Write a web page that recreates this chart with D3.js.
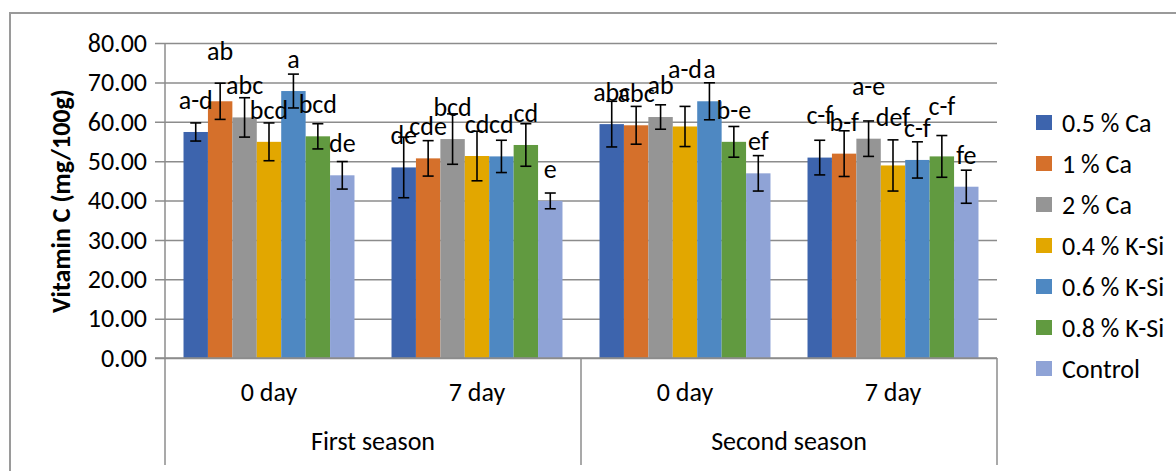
<!DOCTYPE html>
<head>
  <meta charset="utf-8" />
  <script src="https://d3js.org/d3.v7.min.js"></script>
  <style>
    body {
      margin: 0;
      background: #fff;
    }
    text {
      font-family: Carlito, Calibri, Lato, sans-serif;
      fill: #000;
    }
  </style>
</head>

<body>
  <script>
    // data
    var groups = ["First season|0 day", "First season|7 day", "Second season|0 day", "Second season|7 day"];
    var seasons = ["First season", "Second season"];
    var treatments = ["0.5 % Ca", "1 % Ca", "2 % Ca", "0.4 % K-Si", "0.6 % K-Si", "0.8 % K-Si", "Control"];

    var ca05 = [57.4, 48.4, 59.4, 50.9];
    var ca1 = [65.2, 50.7, 59.1, 51.9];
    var ca2 = [61.1, 55.6, 61.2, 55.7];
    var ksi04 = [54.9, 51.3, 58.8, 48.9];
    var ksi06 = [67.8, 51.2, 65.2, 50.3];
    var ksi08 = [56.3, 54.1, 54.9, 51.2];
    var control = [46.4, 39.9, 46.9, 43.5];

    var ca05Err = [2.3, 7.7, 5.8, 4.4];
    var ca1Err = [4.6, 4.5, 4.8, 5.8];
    var ca2Err = [5.0, 6.4, 3.1, 4.5];
    var ksi04Err = [4.8, 6.3, 5.1, 6.5];
    var ksi06Err = [4.3, 4.1, 4.7, 4.6];
    var ksi08Err = [3.2, 5.4, 3.9, 5.3];
    var controlErr = [3.5, 2.0, 4.5, 4.2];

    var ca05Let = ["a-d", "de", "abc", "c-f"];
    var ca1Let = ["ab", "cde", "abc", "b-f"];
    var ca2Let = ["abc", "bcd", "ab", "a-e"];
    var ksi04Let = ["bcd", "cd", "a-d", "def"];
    var ksi06Let = ["a", "cd", "a", "c-f"];
    var ksi08Let = ["bcd", "cd", "b-e", "c-f"];
    var controlLet = ["de", "e", "ef", "fe"];

    var yTicks = [0, 10, 20, 30, 40, 50, 60, 70, 80];

    var values = [ca05, ca1, ca2, ksi04, ksi06, ksi08, control];
    var errors = [ca05Err, ca1Err, ca2Err, ksi04Err, ksi06Err, ksi08Err, controlErr];
    var letters = [ca05Let, ca1Let, ca2Let, ksi04Let, ksi06Let, ksi08Let, controlLet];

    // layout
    var width = 1176, height = 471;
    var fs = 26;
    var colors = ["#3d64ad", "#d5702b", "#959595", "#e2a700", "#4e88c2", "#619a40", "#8fa3d6"];
    // labels that were dragged up in the original (series-group : px)
    var labelLift = { "1-0": 18, "3-2": 25, "0-3": 11, "2-3": 21, "3-3": 16, "5-3": 18 };

    var svg = d3.select("body").append("svg")
      .attr("width", width)
      .attr("height", height);

    svg.append("rect")
      .attr("x", 10).attr("y", 13)
      .attr("width", 1300).attr("height", 600)
      .attr("fill", "none")
      .attr("stroke", "#9a9a9a")
      .attr("stroke-width", 2);

    var plotL = 165, plotR = 997, plotT = 43, base = 358, plotB = 465;

    var x0 = d3.scaleBand().domain(groups).range([plotL, plotR])
      .paddingInner(0.178).paddingOuter(0.089);
    var x1 = d3.scaleBand().domain(treatments).range([0, x0.bandwidth()]);
    var y = d3.scaleLinear().domain([0, 80]).range([base, plotT]);

    // gridlines + ticks
    var yAxis = d3.axisLeft(y).tickValues(yTicks)
      .tickSize(-(plotR - plotL)).tickFormat(d3.format(".2f")).tickPadding(18);
    var ga = svg.append("g").attr("transform", "translate(" + plotL + ",0)").call(yAxis);
    ga.select(".domain").remove();
    ga.selectAll(".tick line").attr("stroke", "#8c8c8c").attr("stroke-width", 1.5)
      .attr("x1", -10);
    ga.selectAll(".tick text").attr("font-size", fs).attr("fill", "#000")
      .attr("font-family", "Carlito, Calibri, Lato, sans-serif");

    // bars
    var bars = [];
    values.forEach(function (s, i) {
      s.forEach(function (v, j) {
        bars.push({ s: i, g: j, v: v, e: errors[i][j], l: letters[i][j] });
      });
    });

    svg.append("g").selectAll("rect").data(bars).join("rect")
      .attr("x", d => x0(groups[d.g]) + x1(treatments[d.s]))
      .attr("width", x1.bandwidth())
      .attr("y", d => y(d.v))
      .attr("height", d => base - y(d.v))
      .attr("fill", d => colors[d.s]);

    // axis lines
    svg.append("line").attr("x1", plotL).attr("x2", plotL).attr("y1", plotT).attr("y2", plotB)
      .attr("stroke", "#8c8c8c").attr("stroke-width", 1.5);
    svg.append("line").attr("x1", plotL - 10).attr("x2", plotR).attr("y1", base).attr("y2", base)
      .attr("stroke", "#8c8c8c").attr("stroke-width", 1.5);
    var mid = (x0(groups[1]) + x0.bandwidth() + x0(groups[2])) / 2;
    [mid, plotR].forEach(function (xx) {
      svg.append("line").attr("x1", xx).attr("x2", xx).attr("y1", base).attr("y2", plotB)
        .attr("stroke", "#8c8c8c").attr("stroke-width", 1.5);
    });

    // error bars
    var ge = svg.append("g").attr("stroke", "#000").attr("stroke-width", 1.6);
    bars.forEach(function (d) {
      var cx = x0(groups[d.g]) + x1(treatments[d.s]) + x1.bandwidth() / 2;
      ge.append("line").attr("x1", cx).attr("x2", cx).attr("y1", y(d.v + d.e)).attr("y2", y(d.v - d.e));
      ge.append("line").attr("x1", cx - 5.5).attr("x2", cx + 5.5).attr("y1", y(d.v + d.e)).attr("y2", y(d.v + d.e));
      ge.append("line").attr("x1", cx - 5.5).attr("x2", cx + 5.5).attr("y1", y(d.v - d.e)).attr("y2", y(d.v - d.e));
    });

    // letters
    svg.append("g").selectAll("text").data(bars).join("text")
      .attr("x", d => x0(groups[d.g]) + x1(treatments[d.s]) + x1.bandwidth() / 2)
      .attr("y", d => y(d.v) - 23 - (labelLift[d.s + "-" + d.g] || 0))
      .attr("text-anchor", "middle")
      .attr("font-size", fs)
      .text(d => d.l);

    // category labels
    groups.forEach(function (g) {
      svg.append("text")
        .attr("x", x0(g) + x0.bandwidth() / 2)
        .attr("y", 401)
        .attr("text-anchor", "middle")
        .attr("font-size", fs)
        .text(g.split("|")[1]);
    });
    seasons.forEach(function (s, i) {
      var a = i == 0 ? plotL : mid, b = i == 0 ? mid : plotR;
      svg.append("text")
        .attr("x", (a + b) / 2)
        .attr("y", 450)
        .attr("text-anchor", "middle")
        .attr("font-size", fs)
        .text(s);
    });

    // y title
    svg.append("text")
      .attr("transform", "translate(70,201) rotate(-90)")
      .attr("text-anchor", "middle")
      .attr("font-size", fs)
      .attr("font-weight", "bold")
      .text("Vitamin C (mg/100g)");

    // legend
    var lg = svg.append("g");
    treatments.forEach(function (t, i) {
      var cy = 123 + 41 * i;
      lg.append("rect").attr("x", 1036).attr("y", cy - 8).attr("width", 16).attr("height", 15)
        .attr("fill", colors[i]);
      lg.append("text").attr("x", 1062).attr("y", cy + 9).attr("font-size", fs).text(t);
    });
  </script>
</body>
